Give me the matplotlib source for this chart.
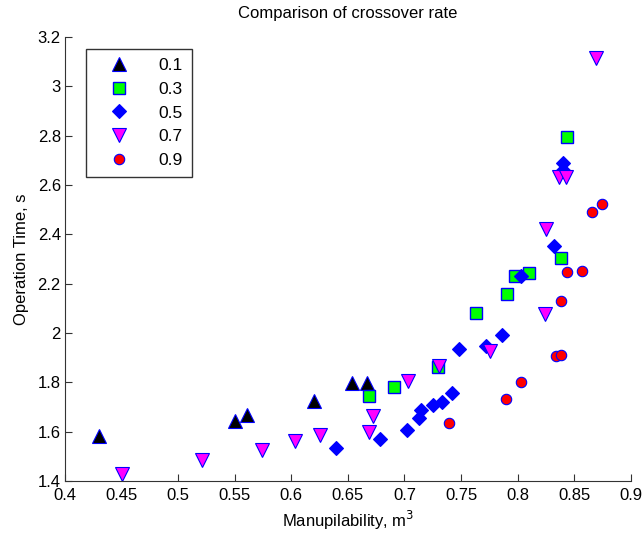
import matplotlib
matplotlib.use('Agg')
from matplotlib import pyplot as plt

plt.rcParams['font.family'] = ['Liberation Sans Narrow', 'Liberation Sans', 'DejaVu Sans']

# crossover rate 0.1
x_01 = [0.430, 0.550, 0.5605, 0.620, 0.654, 0.6665]
y_01 = [1.582, 1.643, 1.668, 1.725, 1.796, 1.796]

# crossover rate 0.3
x_03 = [0.669, 0.691, 0.730, 0.7634, 0.7907, 0.7975, 0.810, 0.838, 0.8437]
y_03 = [1.745, 1.780, 1.863, 2.082, 2.157, 2.231, 2.242, 2.304, 2.796]

# crossover rate 0.5
x_05 = [0.6397, 0.678, 0.702, 0.7127, 0.7145, 0.725, 0.7334, 0.7416,
        0.7483, 0.772, 0.7863, 0.8026, 0.832, 0.840, 0.8405]
y_05 = [1.533, 1.569, 1.607, 1.654, 1.688, 1.708, 1.721, 1.758,
        1.935, 1.948, 1.993, 2.231, 2.353, 2.689, 2.661]

# crossover rate 0.7
x_07 = [0.450, 0.5213, 0.5743, 0.6032, 0.6253, 0.669, 0.6724, 0.7033,
        0.7307, 0.7757, 0.824, 0.8255, 0.8367, 0.843, 0.869]
y_07 = [1.427, 1.485, 1.526, 1.563, 1.589, 1.600, 1.663, 1.806,
        1.866, 1.927, 2.076, 2.424, 2.631, 2.633, 3.117]

# crossover rate 0.9
x_09 = [0.7392, 0.7898, 0.8026, 0.8343, 0.838, 0.838, 0.8437, 0.8573, 0.8658, 0.875]
y_09 = [1.634, 1.732, 1.803, 1.908, 1.912, 2.130, 2.246, 2.251, 2.489, 2.523]

labels = ['0.1', '0.3', '0.5', '0.7', '0.9']

fig = plt.figure(figsize=(6.43, 5.37), dpi=100)
ax = fig.add_axes([0.101, 0.104, 0.880, 0.827])

ax.plot(x_01, y_01, '^', ms=10.5, mfc='black', mec='blue', mew=0.8, label=labels[0])
ax.plot(x_03, y_03, 's', ms=8, mfc='#00ff00', mec='blue', mew=1.0, label=labels[1])
ax.plot(x_05, y_05, 'D', ms=7, mfc='blue', mec='blue', mew=0.8, label=labels[2])
ax.plot(x_07, y_07, 'v', ms=10.5, mfc='magenta', mec='blue', mew=0.8, label=labels[3])
ax.plot(x_09, y_09, 'o', ms=7.5, mfc='red', mec='blue', mew=0.8, label=labels[4])

ax.set_xlim(0.4, 0.9)
ax.set_ylim(1.4, 3.2)
ax.set_xticks([0.4, 0.45, 0.5, 0.55, 0.6, 0.65, 0.7, 0.75, 0.8, 0.85, 0.9])
ax.set_xticklabels(['0.4', '0.45', '0.5', '0.55', '0.6', '0.65', '0.7', '0.75', '0.8', '0.85', '0.9'])
ax.set_yticks([1.4, 1.6, 1.8, 2, 2.2, 2.4, 2.6, 2.8, 3, 3.2])
ax.set_yticklabels(['1.4', '1.6', '1.8', '2', '2.2', '2.4', '2.6', '2.8', '3', '3.2'])

ax.spines['top'].set_visible(False)
ax.spines['right'].set_visible(False)
ax.spines['left'].set_color('#333333')
ax.spines['bottom'].set_color('#333333')
ax.tick_params(axis='both', direction='in', length=5, labelsize=12, color='#333333')
ax.tick_params(axis='x', pad=5)
ax.tick_params(axis='y', pad=3)

ax.set_title('Comparison of crossover rate', fontsize=12, pad=14)
ax.set_xlabel('Manupilability, m$^3$', fontsize=12, labelpad=4)
ax.set_ylabel('Operation Time, s', fontsize=12, labelpad=6)

leg = ax.legend(loc='upper left', bbox_to_anchor=(0.037, 0.973), fontsize=12.5,
                frameon=True, fancybox=False, edgecolor='black', numpoints=1,
                handletextpad=0.9, borderpad=0.5, labelspacing=0.5, handlelength=2.8,
                borderaxespad=0)
leg.get_frame().set_linewidth(1.0)

plt.savefig('out.png', dpi=100)
